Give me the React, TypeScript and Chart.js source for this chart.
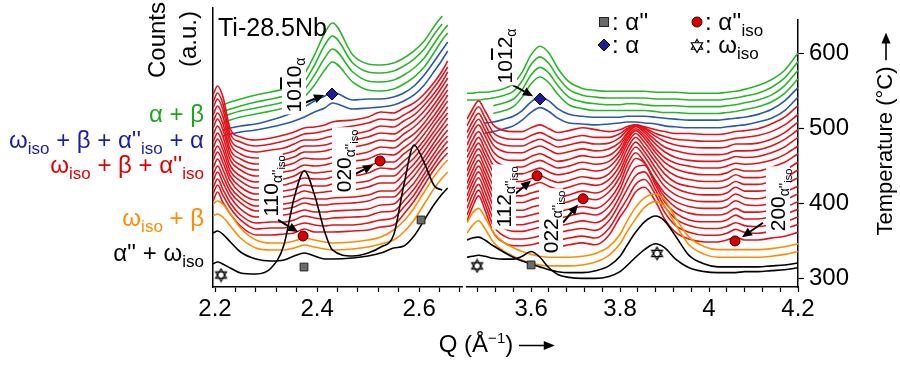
import React, { useEffect, useRef } from "react";
import { Chart, registerables } from "chart.js";

Chart.register(...registerables);

const FONT = "'Liberation Sans', Arial, Helvetica, sans-serif";

// ---------------- axes ----------------
const leftQRange = [2.196, 2.684];
const rightQRange = [3.456, 4.2];
const tempRange = [288.5, 644.8];
const leftTicks = [2.2, 2.24, 2.28, 2.32, 2.36, 2.4, 2.44, 2.48, 2.52, 2.56, 2.6, 2.64, 2.68];
const rightTicks = [3.48, 3.52, 3.56, 3.6, 3.64, 3.68, 3.72, 3.76, 3.8, 3.84, 3.88, 3.92, 3.96, 4.0, 4.04, 4.08, 4.12, 4.16, 4.2];
const leftMajor = [2.2, 2.4, 2.6];
const leftMajorLabels = ["2.2", "2.4", "2.6"];
const rightMajor = [3.6, 3.8, 4.0, 4.2];
const rightMajorLabels = ["3.6", "3.8", "4", "4.2"];
const tempTicks = [300, 400, 500, 600];

// ---------------- Q sampling of the patterns ----------------
const leftQ = [2.196, 2.205, 2.215, 2.23, 2.25, 2.28, 2.31, 2.335, 2.355, 2.375, 2.395, 2.415, 2.43, 2.47, 2.5, 2.525, 2.55, 2.57, 2.59, 2.61, 2.63, 2.645, 2.656];
const rightQ = [3.456, 3.468, 3.482, 3.496, 3.515, 3.54, 3.56, 3.58, 3.6, 3.62, 3.64, 3.66, 3.685, 3.715, 3.745, 3.775, 3.8, 3.815, 3.835, 3.855, 3.88, 3.9, 3.925, 3.955, 3.99, 4.02, 4.04, 4.06, 4.08, 4.11, 4.14, 4.17, 4.2];

// temperature offset of every pattern (°C), bottom -> top
const blackOffsets = [307.7, 315.3];
const orangeOffsets = [328.1, 338.3];
const redOffsets = [348.5, 357.5, 366.4, 375.3, 384.3, 393.2, 402.2, 411.1, 420.0, 429.0, 437.9, 446.9, 455.8, 464.7, 473.7, 482.6, 491.6];
const blueOffsets = [500.5, 510.7];
const greenOffsets = [519.6, 528.6, 537.5, 546.5];
const COUNT_SCALE = 1.277; // °C of offset per count unit

// ---------------- counts (a.u.), left panel ----------------
const blackLeft = [
  [8, 10, 8, 4, -1, -2, 4, 27, 74, 101, 77, 40, 22, 16, 19, 25, 37, 87, 127, 109, 86, 82, null],
  [33, 35, 32, 24, 14, 7, 5, 6, 10, 13, 10, 7, 7, 8, 10, 13, 18, 20, 30, 46, 62, 72, 78],
];
const orangeLeft = [
  [40, 42, 39, 30, 18, 8, 6, 6, 8, 11, 9, 7, 6, 7, 9, 12, 16, 24, 36, 52, 68, 78, 84],
  [44, 47, 44, 34, 20, 8, 5, 5, 7, 10, 8, 6, 5, 6, 8, 11, 18, 27, 40, 56, 72, 82, 88],
];
const redLeft = [
  [39, 48, 38, 26, 14, 5, 5, 6, 7, 11, 8, 8, 8, 9, 10, 13, 15, 26, 39, 55, 71, 81, 87],
  [39, 48, 38, 25, 13, 4, 5, 5, 7, 10, 8, 7, 8, 8, 10, 13, 15, 26, 38, 54, 69, 80, 86],
  [38, 47, 37, 23, 11, 3, 4, 4, 6, 10, 8, 7, 8, 9, 10, 14, 15, 25, 37, 52, 68, 78, 85],
  [38, 47, 37, 22, 10, 2, 3, 4, 6, 9, 7, 7, 8, 9, 10, 14, 15, 25, 36, 51, 66, 77, 83],
  [37, 46, 36, 20, 9, 1, 2, 3, 5, 9, 7, 7, 8, 9, 11, 15, 15, 25, 36, 50, 65, 75, 82],
  [37, 46, 36, 18, 7, -1, 0, 1, 3, 7, 6, 6, 7, 8, 10, 14, 14, 24, 35, 48, 63, 74, 81],
  [37, 46, 36, 17, 5, -2, -1, 1, 3, 7, 5, 6, 7, 8, 11, 15, 15, 24, 34, 47, 62, 72, 80],
  [36, 45, 35, 15, 4, -3, -2, 0, 2, 6, 5, 5, 7, 8, 10, 15, 15, 24, 33, 46, 60, 71, 78],
  [36, 45, 35, 13, 3, -4, -2, -1, 2, 6, 5, 5, 7, 8, 11, 16, 15, 23, 32, 44, 59, 69, 77],
  [35, 44, 34, 11, 1, -5, -3, -2, 1, 6, 4, 5, 6, 8, 11, 15, 15, 23, 31, 43, 57, 68, 76],
  [35, 44, 34, 10, 0, -6, -4, -2, 0, 5, 4, 5, 7, 9, 11, 16, 15, 22, 30, 42, 55, 66, 75],
  [35, 44, 34, 8, -2, -7, -5, -3, 0, 5, 4, 4, 6, 8, 11, 16, 15, 22, 29, 40, 54, 65, 73],
  [34, 43, 33, 6, -3, -8, -6, -4, -1, 4, 4, 5, 7, 9, 12, 16, 15, 22, 29, 39, 52, 63, 72],
  [34, 43, 33, 5, -5, -9, -7, -5, -2, 3, 3, 4, 6, 9, 12, 16, 15, 21, 28, 38, 51, 62, 71],
  [34, 43, 33, 3, -6, -10, -8, -6, -2, 2, 2, 4, 6, 8, 11, 16, 15, 21, 27, 37, 49, 60, 70],
  [33, 42, 32, 1, -7, -11, -9, -6, -3, 1, 2, 4, 6, 9, 12, 16, 15, 20, 26, 35, 48, 59, 68],
  [33, 42, 32, -1, -9, -12, -10, -7, -4, 0, 1, 3, 6, 8, 11, 16, 15, 20, 25, 34, 46, 57, 67],
];
const blueLeft = [
  [null, null, -15, -13, -11, -9, -6, -3, 0, 4, 9, 13, 18, 12, 13, 14, 16, 20, 26, 36, 50, 61, 70],
  [null, null, -17, -15, -13, -11, -7, -3, 1, 6, 12, 17, 21, 13, 14, 14, 16, 20, 27, 38, 52, 63, 71],
];
const greenLeft = [
  [null, null, -17, -14, -11, -8, -5, -2, 1, 9, 21, 36, 44, 24, 16, 15, 17, 22, 29, 39, 54, 66, 73],
  [null, null, -18, -15, -12, -9, -6, -3, 0, 9, 24, 41, 50, 27, 18, 17, 19, 24, 31, 41, 56, 67, 74],
  [null, null, -20, -17, -14, -10, -7, -4, 0, 10, 27, 47, 56, 29, 20, 19, 21, 26, 33, 43, 58, 68, null],
  [null, null, -20, -17, -14, -10, -7, -4, 0, 11, 30, 52, 62, 30, 21, 20, 22, 27, 34, 44, 59, 69, null],
];

// ---------------- counts (a.u.), right panel ----------------
const blackRight = [
  [16, 17, 18, 17, 15, 14, 14, 17, 22, 16, 5, -2, -5, -6, -6, -4, 1, 7, 16, 24, 30, 26, 14, 5, 1, 0, 0, 0, 1, 1, 2, 3, 5],
  [28, 30, 31, 28, 22, 15, 10, 6, 3, 0, -3, -5, -6, -6, -4, 1, 11, 22, 36, 47, 53, 48, 32, 12, 3, 0, 0, 0, 0, 0, 1, 2, 4],
];
const orangeRight = [
  [25, 33, 38, 30, 16, 6, 1, -3, -6, -8, -9, -9, -9, -8, -5, 2, 14, 26, 40, 52, 58, 53, 34, 13, 3, 0, 0, 0, 0, 0, 1, 3, 6],
  [28, 38, 43, 34, 18, 7, 2, -2, -5, -7, -8, -8, -8, -7, -4, 3, 16, 29, 44, 54, 58, 52, 33, 13, 3, 0, 0, 0, 0, 0, 1, 3, 6],
];
const redRight = [
  [22, 36, 48, 34, 10, -1, -4, -4, -3, -1, -3, -5, -3, -1, -3, 7, 26, 36, 52, 57, 42, 24, 10, 3, 0, 0, 2, 5, 2, 2, 4, 6, 10],
  [21, 35, 47, 33, 10, -1, -4, -4, -3, -1, -3, -5, -3, -1, -3, 7, 26, 37, 53, 58, 42, 24, 10, 3, 0, 0, 2, 6, 3, 2, 4, 7, 11],
  [21, 35, 46, 32, 10, 0, -3, -3, -1, 1, -2, -4, -2, 0, -2, 8, 27, 40, 55, 59, 40, 23, 10, 3, 0, 0, 2, 6, 3, 2, 4, 7, 12],
  [21, 35, 46, 32, 10, 0, -3, -3, -1, 1, -2, -4, -2, 1, -1, 8, 27, 42, 57, 59, 38, 21, 9, 2, 0, 0, 2, 7, 3, 3, 5, 8, 13],
  [20, 34, 45, 32, 10, 1, -2, -2, 0, 2, -1, -3, -1, 2, 0, 9, 27, 44, 59, 54, 34, 19, 8, 2, 0, 0, 2, 7, 3, 3, 5, 8, 14],
  [20, 33, 44, 31, 10, 1, -2, -2, 1, 3, 0, -3, -1, 2, 0, 9, 26, 44, 58, 48, 29, 16, 7, 2, 0, 0, 2, 8, 4, 3, 5, 9, 15],
  [19, 32, 43, 30, 10, 1, -1, -1, 2, 4, 1, -2, 0, 4, 2, 10, 26, 43, 57, 47, 29, 16, 7, 2, 0, 0, 2, 8, 4, 3, 6, 10, 16],
  [19, 32, 42, 29, 10, 1, -1, -1, 2, 4, 1, -2, 0, 4, 2, 9, 25, 41, 55, 45, 28, 15, 7, 2, 0, 0, 2, 8, 4, 4, 6, 11, 18],
  [18, 31, 41, 29, 10, 1, 0, 0, 3, 6, 2, -1, 1, 5, 3, 9, 24, 40, 53, 43, 27, 15, 6, 2, 0, 0, 2, 7, 4, 4, 7, 11, 19],
  [18, 30, 40, 28, 10, 1, 0, 0, 3, 6, 2, -1, 1, 5, 3, 8, 23, 38, 50, 41, 25, 14, 6, 2, 0, 0, 2, 7, 4, 4, 7, 12, 20],
  [18, 29, 39, 27, 10, 2, 1, 1, 4, 7, 3, 0, 2, 6, 4, 8, 21, 35, 46, 38, 23, 13, 6, 2, 0, 0, 2, 6, 4, 4, 8, 13, 22],
  [17, 29, 38, 27, 10, 2, 1, 1, 5, 8, 4, 0, 2, 6, 4, 7, 18, 31, 41, 34, 20, 11, 5, 2, 0, 0, 2, 5, 4, 5, 8, 14, 23],
  [17, 29, 38, 27, 10, 2, 1, 1, 5, 8, 4, 0, 2, 6, 4, 6, 16, 27, 36, 30, 18, 10, 4, 1, 0, 0, 2, 5, 4, 5, 9, 15, 25],
  [17, 28, 37, 26, 10, 3, 2, 2, 6, 9, 5, 1, 3, 6, 4, 6, 13, 22, 30, 25, 15, 8, 4, 1, 0, 0, 1, 4, 4, 5, 9, 16, 26],
  [16, 27, 36, 25, 9, 3, 2, 2, 6, 9, 5, 1, 3, 6, 4, 5, 11, 18, 24, 20, 12, 7, 3, 1, 0, 0, 1, 4, 4, 5, 9, 16, 27],
  [16, 27, 36, 25, 9, 3, 2, 2, 6, 9, 5, 1, 3, 6, 4, 4, 8, 13, 17, 14, 8, 5, 2, 1, 0, 0, 1, 3, 4, 6, 10, 17, 28],
  [16, 26, 35, 25, 10, 4, 3, 3, 7, 10, 6, 2, 4, 7, 5, 3, 5, 8, 10, 8, 5, 3, 1, 1, 0, 0, 1, 3, 4, 6, 11, 18, 30],
];
const blueRight = [
  [null, null, null, -6, -4, -1, 2, 8, 16, 21, 17, 10, 5, 4, 3, 4, 5, 6, 6, 5, 4, 2, 1, 0, 0, 0, 1, 2, 3, 6, 10, 18, 32],
  [null, null, null, -3, -2, 1, 4, 10, 19, 24, 20, 12, 6, 4, 3, 3, 3, 4, 4, 4, 3, 2, 1, 0, 0, 0, 1, 2, 3, 6, 11, 20, 34],
];
const greenRight = [
  [null, null, null, null, 0, 3, 7, 17, 31, 38, 32, 20, 9, 5, 3, 3, 3, 3, 3, 3, 2, 1, 1, 0, 0, 0, 1, 2, 4, 7, 12, 21, 36],
  [null, null, null, null, 1, 4, 8, 18, 33, 41, 35, 22, 10, 5, 3, 2, 2, 3, 3, 2, 1, 1, 1, 0, 0, 0, 1, 2, 4, 7, 12, 22, 38],
  [0, 0, 0, 1, 2, 5, 9, 20, 37, 45, 38, 24, 11, 5, 3, 2, 2, 2, 2, 2, 1, 1, 1, 0, 0, 0, 1, 2, 4, 7, 13, 23, 40],
  [0, 0, 1, 1, 2, 5, 10, 22, 40, 49, 42, 26, 12, 5, 3, 2, 2, 2, 2, 2, 1, 1, 1, 0, 0, 0, 1, 2, 4, 8, 14, 24, 42],
];

// ---------------- phase markers [Q, T] ----------------
const leftSquares = [[2.3744, 314.0], [2.6038, 374.1]];
const leftCircles = [[2.3725, 353.6], [2.5234, 449.4]];
const leftDiamonds = [[2.4293, 535.0]];
const leftStars = [[2.2117, 303.8]];
const rightSquares = [[3.6, 317.9]];
const rightCircles = [[3.6135, 436.6], [3.7169, 406.0], [4.0584, 349.8]];
const rightDiamonds = [[3.6202, 538.8]];
const rightStars = [[3.4787, 316.6], [3.8831, 333.2]];

// arrows [Q tail, T tail, Q head, T head]
const leftArrows = [[2.3705, 522.2, 2.4136, 533.7], [2.3235, 374.1, 2.3627, 358.7], [2.4705, 431.5, 2.5097, 444.3]];
const rightArrows = [[3.5528, 559.2, 3.6045, 542.6], [3.564, 412.4, 3.6, 430.3], [3.6719, 374.1, 3.7056, 398.3], [4.1213, 374.1, 4.0742, 354.9]];

const C_BLACK = "#000000";
const C_ORANGE = "#ff8c00";
const C_RED = "#e3131b";
const C_BLUE = "#2a5aa6";
const C_GREEN = "#2bb52b";

function curveSets(grid: number[], rows: (number | null)[][], offsets: number[], color: string) {
  return rows.map((row, i) => ({
    type: "line",
    data: row
      .map((c, k) => (c === null ? null : { x: grid[k], y: offsets[i] + (c as number) * COUNT_SCALE }))
      .filter((p) => p !== null),
    borderColor: color,
    borderWidth: 1.6,
    pointRadius: 0,
    fill: false,
    cubicInterpolationMode: "monotone",
    order: 1,
  }));
}

function markerSet(points: number[][], style: any, radius: number, fill: string, border: string) {
  return {
    type: "line",
    showLine: false,
    data: points.map(([x, y]) => ({ x, y })),
    pointStyle: style,
    pointRadius: radius,
    pointBackgroundColor: fill,
    pointBorderColor: border,
    pointBorderWidth: 1,
    order: 0,
  };
}

function hexagramCanvas(size: number) {
  const c = document.createElement("canvas");
  c.width = size;
  c.height = size;
  const g = c.getContext("2d") as CanvasRenderingContext2D;
  const cx = size / 2, cy = size / 2, r = size / 2 - 1.2;
  const tri = (start: number) => {
    g.beginPath();
    for (let k = 0; k < 3; k++) {
      const a = start + (k * 2 * Math.PI) / 3;
      const px = cx + r * Math.cos(a), py = cy + r * Math.sin(a);
      if (k === 0) g.moveTo(px, py);
      else g.lineTo(px, py);
    }
    g.closePath();
  };
  g.fillStyle = "#fff";
  tri(-Math.PI / 2); g.fill();
  tri(Math.PI / 2); g.fill();
  g.strokeStyle = "#000";
  g.lineWidth = 1.2;
  tri(-Math.PI / 2); g.stroke();
  tri(Math.PI / 2); g.stroke();
  return c;
}

function hexPoints(cx: number, cy: number, r: number, start: number) {
  const pts: string[] = [];
  for (let k = 0; k < 3; k++) {
    const a = start + (k * 2 * Math.PI) / 3;
    pts.push(`${cx + r * Math.cos(a)},${cy + r * Math.sin(a)}`);
  }
  return pts.join(" ");
}

const arrowPlugin = {
  id: "arrows",
  afterDatasetsDraw(chart: any, _args: any, opts: any) {
    const list = (opts && opts.list) || [];
    const { ctx } = chart;
    const xs = chart.scales.x, ys = chart.scales.y;
    ctx.save();
    ctx.strokeStyle = "#000";
    ctx.fillStyle = "#000";
    ctx.lineWidth = 2;
    for (const a of list) {
      const x1 = xs.getPixelForValue(a[0]), y1 = ys.getPixelForValue(a[1]);
      const x2 = xs.getPixelForValue(a[2]), y2 = ys.getPixelForValue(a[3]);
      const ang = Math.atan2(y2 - y1, x2 - x1);
      const hl = 10, hw = 4.5;
      const bx = x2 - hl * Math.cos(ang), by = y2 - hl * Math.sin(ang);
      ctx.beginPath();
      ctx.moveTo(x1, y1);
      ctx.lineTo(bx, by);
      ctx.stroke();
      ctx.beginPath();
      ctx.moveTo(x2, y2);
      ctx.lineTo(bx + hw * Math.sin(ang), by - hw * Math.cos(ang));
      ctx.lineTo(bx - hw * Math.sin(ang), by + hw * Math.cos(ang));
      ctx.closePath();
      ctx.fill();
    }
    ctx.restore();
  },
};

function panelOptions(isLeft: boolean, xRange: number[], ticks: number[], majors: number[], majorLabels: string[], arrows: number[][]) {
  return {
    animation: false,
    responsive: false,
    maintainAspectRatio: false,
    layout: {
      autoPadding: false,
      padding: isLeft ? { left: 213, right: 8, top: 8, bottom: 0 } : { left: 5, right: 42, top: 8, bottom: 0 },
    },
    plugins: { legend: { display: false }, tooltip: { enabled: false }, arrows: { list: arrows } },
    scales: {
      x: {
        type: "linear",
        min: xRange[0],
        max: xRange[1],
        afterBuildTicks: (s: any) => {
          s.ticks = ticks.map((v) => ({ value: v }));
        },
        afterFit: (s: any) => {
          s.height = 79;
        },
        ticks: {
          autoSkip: false,
          maxRotation: 0,
          color: "#000",
          font: { family: FONT, size: 24 },
          padding: 3,
          callback: (v: number) => {
            const i = majors.findIndex((m) => Math.abs(m - v) < 1e-6);
            return i < 0 ? "" : majorLabels[i];
          },
        },
        grid: { drawOnChartArea: false, drawTicks: true, tickLength: 5, tickColor: "#000", tickWidth: 1.2 },
        border: { display: true, color: "#000", width: 1.5 },
      },
      y: {
        type: "linear",
        position: isLeft ? "left" : "right",
        min: tempRange[0],
        max: tempRange[1],
        afterBuildTicks: (s: any) => {
          s.ticks = tempTicks.map((v) => ({ value: v }));
        },
        afterFit: (s: any) => {
          s.width = isLeft ? 0 : 60;
        },
        ticks: { display: !isLeft, color: "#000", font: { family: FONT, size: 24 }, padding: 5 },
        grid: { display: true, drawOnChartArea: false, drawTicks: !isLeft, tickLength: 6, tickColor: "#000", tickWidth: 1.2 },
        border: { display: true, color: "#000", width: 1.5 },
      },
    },
  };
}

const Sub = ({ children, size = 17, drop = 6 }: any) => (
  <span style={{ fontSize: size, position: "relative", top: drop, lineHeight: 0 }}>{children}</span>
);

const Phase = ({ cy, color, children }: any) => (
  <div style={{ position: "absolute", right: 696, top: cy - 14, height: 28, lineHeight: "28px", fontSize: 24, color, whiteSpace: "nowrap" }}>
    {children}
  </div>
);

const VText = ({ cx, cy, children, size = 21, lh = 24, bg = true }: any) => (
  <div
    style={{
      position: "absolute",
      left: cx,
      top: cy,
      transform: "translate(-50%, -50%) rotate(-90deg)",
      background: bg ? "#fff" : "transparent",
      fontSize: size,
      lineHeight: lh + "px",
      whiteSpace: "nowrap",
      padding: bg ? "0 2px" : 0,
    }}
  >
    {children}
  </div>
);

const Arrow = ({ w = 38 }: any) => (
  <svg width={w} height={12} style={{ verticalAlign: "middle", marginLeft: 6 }}>
    <line x1={0} y1={6} x2={w - 9} y2={6} stroke="#000" strokeWidth={1.6} />
    <polygon points={`${w - 11},1.5 ${w},6 ${w - 11},10.5`} fill="#000" />
  </svg>
);

const AlphaIso = () => (
  <Sub size={14} drop={4}>
    α''<Sub size={11} drop={3}>iso</Sub>
  </Sub>
);

export default function App() {
  const leftRef = useRef<HTMLCanvasElement>(null);
  const rightRef = useRef<HTMLCanvasElement>(null);

  useEffect(() => {
    const star = hexagramCanvas(15);
    const leftData = {
      datasets: [
        markerSet(leftSquares, "rect", 5.5, "#6a6a6a", "#222"),
        markerSet(leftCircles, "circle", 5, "#d80000", "#300"),
        markerSet(leftDiamonds, "rectRot", 6, "#1d1d9a", "#000"),
        markerSet(leftStars, star, 7, "#fff", "#000"),
        ...curveSets(leftQ, blackLeft, blackOffsets, C_BLACK),
        ...curveSets(leftQ, orangeLeft, orangeOffsets, C_ORANGE),
        ...curveSets(leftQ, redLeft, redOffsets, C_RED),
        ...curveSets(leftQ, blueLeft, blueOffsets, C_BLUE),
        ...curveSets(leftQ, greenLeft, greenOffsets, C_GREEN),
      ],
    };
    const rightData = {
      datasets: [
        markerSet(rightSquares, "rect", 5.5, "#6a6a6a", "#222"),
        markerSet(rightCircles, "circle", 5, "#d80000", "#300"),
        markerSet(rightDiamonds, "rectRot", 6, "#1d1d9a", "#000"),
        markerSet(rightStars, star, 7, "#fff", "#000"),
        ...curveSets(rightQ, blackRight, blackOffsets, C_BLACK),
        ...curveSets(rightQ, orangeRight, orangeOffsets, C_ORANGE),
        ...curveSets(rightQ, redRight, redOffsets, C_RED),
        ...curveSets(rightQ, blueRight, blueOffsets, C_BLUE),
        ...curveSets(rightQ, greenRight, greenOffsets, C_GREEN),
      ],
    };
    const left = new Chart(leftRef.current as HTMLCanvasElement, {
      type: "line",
      data: leftData as any,
      options: panelOptions(true, leftQRange, leftTicks, leftMajor, leftMajorLabels, leftArrows) as any,
      plugins: [arrowPlugin],
    });
    const right = new Chart(rightRef.current as HTMLCanvasElement, {
      type: "line",
      data: rightData as any,
      options: panelOptions(false, rightQRange, rightTicks, rightMajor, rightMajorLabels, rightArrows) as any,
      plugins: [arrowPlugin],
    });
    return () => {
      left.destroy();
      right.destroy();
    };
  }, []);

  return (
    <div style={{ position: "relative", width: 900, height: 366, overflow: "hidden", background: "#fff", fontFamily: FONT, color: "#000" }}>
      <style>{"html,body{margin:0;padding:0;background:#fff;}"}</style>
      <canvas ref={leftRef} width={470} height={366} style={{ position: "absolute", left: 0, top: 0 }} />
      <canvas ref={rightRef} width={438} height={366} style={{ position: "absolute", left: 462, top: 0 }} />

      {/* left axis title */}
      <VText cx={157} cy={40} size={24} lh={26} bg={false}>Counts</VText>
      <VText cx={188} cy={39} size={24} lh={26} bg={false}>(a.u.)</VText>

      {/* phase fields */}
      <Phase cy={114} color="#1ea51e">α + β</Phase>
      <Phase cy={140} color="#1c1caa">
        ω<Sub>iso</Sub> + β + α''<Sub>iso</Sub> + α
      </Phase>
      <Phase cy={165} color="#e00000">
        ω<Sub>iso</Sub> + β + α''<Sub>iso</Sub>
      </Phase>
      <Phase cy={218} color="#ff8c00">
        ω<Sub>iso</Sub> + β
      </Phase>
      <Phase cy={253} color="#000">
        α'' + ω<Sub>iso</Sub>
      </Phase>

      <div style={{ position: "absolute", left: 218, top: 14, fontSize: 25, lineHeight: "26px", whiteSpace: "nowrap" }}>Ti-28.5Nb</div>

      {/* reflection labels */}
      <VText cx={294} cy={85}>
        10<span style={{ textDecoration: "overline" }}>1</span>0<Sub size={14} drop={4}>α</Sub>
      </VText>
      <VText cx={271} cy={186}>
        110<AlphaIso />
      </VText>
      <VText cx={344} cy={161}>
        020<AlphaIso />
      </VText>
      <VText cx={505} cy={56}>
        10<span style={{ textDecoration: "overline" }}>1</span>2<Sub size={14} drop={4}>α</Sub>
      </VText>
      <VText cx={504} cy={197}>
        112<AlphaIso />
      </VText>
      <VText cx={551} cy={222}>
        022<AlphaIso />
      </VText>
      <VText cx={778} cy={200}>
        200<AlphaIso />
      </VText>

      {/* legend */}
      <svg width={900} height={366} style={{ position: "absolute", left: 0, top: 0, pointerEvents: "none" }}>
        <rect x={599.5} y={17.5} width={9} height={9} fill="#6a6a6a" stroke="#222" strokeWidth={1} />
        <circle cx={697} cy={22} r={5} fill="#d80000" stroke="#300" strokeWidth={1} />
        <polygon points="604,39 610,45 604,51 598,45" fill="#1d1d9a" stroke="#000" strokeWidth={1} />
        <polygon points={hexPoints(697, 46, 6.5, -Math.PI / 2)} fill="#fff" stroke="#000" strokeWidth={1.2} />
        <polygon points={hexPoints(697, 46, 6.5, Math.PI / 2)} fill="#fff" stroke="#000" strokeWidth={1.2} />
      </svg>
      <div style={{ position: "absolute", left: 612, top: 8, fontSize: 24, lineHeight: "28px", whiteSpace: "nowrap" }}>: α''</div>
      <div style={{ position: "absolute", left: 705, top: 8, fontSize: 24, lineHeight: "28px", whiteSpace: "nowrap" }}>
        : α''<Sub>iso</Sub>
      </div>
      <div style={{ position: "absolute", left: 612, top: 31, fontSize: 24, lineHeight: "28px", whiteSpace: "nowrap" }}>: α</div>
      <div style={{ position: "absolute", left: 705, top: 31, fontSize: 24, lineHeight: "28px", whiteSpace: "nowrap" }}>
        : ω<Sub>iso</Sub>
      </div>

      {/* axis titles */}
      <div style={{ position: "absolute", left: 497, top: 345, transform: "translate(-50%, -50%)", fontSize: 24, lineHeight: "28px", whiteSpace: "nowrap" }}>
        Q (Å<span style={{ fontSize: 15, position: "relative", top: -9 }}>−1</span>)<Arrow w={36} />
      </div>
      <VText cx={885} cy={134} size={22} lh={24} bg={false}>
        Temperature (°C)<Arrow w={28} />
      </VText>
    </div>
  );
}
